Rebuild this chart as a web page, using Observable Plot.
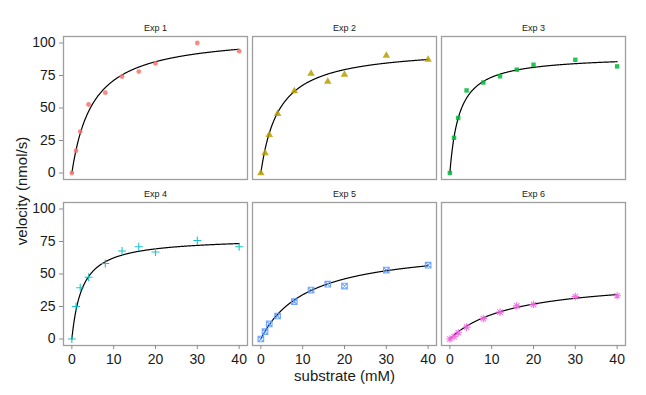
<!DOCTYPE html>
<html>
<head>
<meta charset="utf-8">
<script src="https://cdn.jsdelivr.net/npm/d3@7"></script>
<script src="https://cdn.jsdelivr.net/npm/@observablehq/plot@0.6"></script>
<style>
  html, body { margin: 0; padding: 0; background: #fff; }
</style>
</head>
<body>
<div id="chart"></div>
<script>
const experiments = ["Exp 1", "Exp 2", "Exp 3", "Exp 4", "Exp 5", "Exp 6"];
const substrate = [0, 1, 2, 4, 8, 12, 16, 20, 30, 40];
const velocityExp1 = [0, 17.2, 31.9, 52.7, 61.8, 74.2, 78.0, 84.3, 100.0, 93.7];
const velocityExp2 = [0, 15.4, 29.4, 45.6, 63.0, 76.5, 70.4, 75.7, 90.4, 87.3];
const velocityExp3 = [0, 27.1, 42.3, 63.5, 69.6, 74.4, 79.5, 83.3, 87.1, 82.0];
const velocityExp4 = [0, 25.0, 39.4, 47.5, 58.1, 67.7, 71.0, 66.9, 75.8, 71.0];
const velocityExp5 = [0, 5.6, 11.6, 17.7, 28.8, 37.6, 42.2, 40.7, 53.0, 56.8];
const velocityExp6 = [0, 1.8, 4.8, 9.1, 15.7, 20.7, 25.5, 26.5, 32.6, 33.3];
const vmax = [107.2, 96.8, 90.5, 78.0, 72.1, 47.0];
const km = [5.05, 4.35, 2.28, 2.5, 11.2, 15.0];
const yTicks = [0, 25, 50, 75, 100];
const xTicks = [0, 10, 20, 30, 40];
const colors = ["#F8766D", "#B79F00", "#00BA38", "#00BFC4", "#619CFF", "#F564E3"];

const velocities = [velocityExp1, velocityExp2, velocityExp3, velocityExp4, velocityExp5, velocityExp6];

const points = [];
velocities.forEach((vals, i) => {
  vals.forEach((v, j) => points.push({exp: experiments[i], idx: i, s: substrate[j], v}));
});

const curves = [];
experiments.forEach((e, i) => {
  for (let k = 0; k <= 400; k++) {
    const s = k * 0.1;
    curves.push({exp: e, idx: i, s, v: vmax[i] * s / (km[i] + s)});
  }
});

const strips = experiments.map((e, i) => ({exp: e, idx: i}));
const col = d => d.idx % 3;
const row = d => Math.floor(d.idx / 3);

// custom symbols
const plusSym = {draw(ctx, size) { const r = Math.sqrt(size / Math.PI);
  ctx.moveTo(-r, 0); ctx.lineTo(r, 0); ctx.moveTo(0, -r); ctx.lineTo(0, r); }};
const squareCross = {draw(ctx, size) { const r = Math.sqrt(size / Math.PI);
  ctx.moveTo(-r, -r); ctx.lineTo(r, -r); ctx.lineTo(r, r); ctx.lineTo(-r, r); ctx.closePath();
  ctx.moveTo(-r, -r); ctx.lineTo(r, r); ctx.moveTo(r, -r); ctx.lineTo(-r, r); }};
const asterisk8 = {draw(ctx, size) { const r = Math.sqrt(size / Math.PI); const q = r * 0.7071;
  ctx.moveTo(-r, 0); ctx.lineTo(r, 0); ctx.moveTo(0, -r); ctx.lineTo(0, r);
  ctx.moveTo(-q, -q); ctx.lineTo(q, q); ctx.moveTo(q, -q); ctx.lineTo(-q, q); }};

const symbolSpec = [
  {symbol: "circle", r: 2.4, filled: true},
  {symbol: "triangle", r: 2.8, filled: true},
  {symbol: "square", r: 2.5, filled: true},
  {symbol: plusSym, r: 4, filled: false},
  {symbol: squareCross, r: 2.8, filled: false},
  {symbol: asterisk8, r: 3.8, filled: false}
];

const dotMarks = symbolSpec.map((sp, i) => Plot.dot(points.filter(d => d.idx === i), {
  x: "s", y: "v", fx: col, fy: row,
  symbol: sp.symbol, r: sp.r,
  ...(sp.filled ? {fill: colors[i], fillOpacity: 0.85} : {stroke: colors[i], strokeWidth: 1.1, strokeOpacity: 0.9})
}));

const font = "'Liberation Sans', Arial, Helvetica, sans-serif";

const chart = Plot.plot({
  width: 646,
  height: 395,
  marginLeft: 62,
  marginRight: 20,
  marginTop: 36,
  marginBottom: 49,
  style: {fontFamily: font, background: "#fff", color: "#1a1a1a"},
  x: {domain: [-2, 42]},
  y: {domain: [-5, 105]},
  fx: {domain: [0, 1, 2], axis: null, paddingInner: 0.028, paddingOuter: 0},
  fy: {domain: [0, 1], axis: null, paddingInner: 0.138, paddingOuter: 0},
  marks: [
    Plot.frame({stroke: "#9e9e9e", strokeWidth: 1.3}),
    Plot.axisY({ticks: yTicks, tickSize: 4, tickPadding: 4, stroke: "#8c8c8c", fill: "#1a1a1a", fontSize: 14, label: null}),
    Plot.axisX({ticks: xTicks, tickSize: 4, tickPadding: 5, stroke: "#8c8c8c", fill: "#1a1a1a", fontSize: 14, label: null}),
    Plot.line(curves, {x: "s", y: "v", z: "exp", fx: col, fy: row, stroke: "black", strokeWidth: 1.2}),
    ...dotMarks,
    Plot.text(strips, {fx: col, fy: row, text: "exp", frameAnchor: "top", dy: -8, lineAnchor: "middle", fontSize: 9, fill: "#1a1a1a"}),
    Plot.text(["velocity (nmol/s)"], {facet: "super", text: d => d, frameAnchor: "left", dx: -41, rotate: -90, textAnchor: "middle", lineAnchor: "middle", fontSize: 15, fill: "#1a1a1a"}),
    Plot.text(["substrate (mM)"], {facet: "super", text: d => d, frameAnchor: "bottom", dy: 31, textAnchor: "middle", lineAnchor: "middle", fontSize: 15, fill: "#1a1a1a"})
  ]
});
document.getElementById("chart").appendChild(chart);
</script>
</body>
</html>
